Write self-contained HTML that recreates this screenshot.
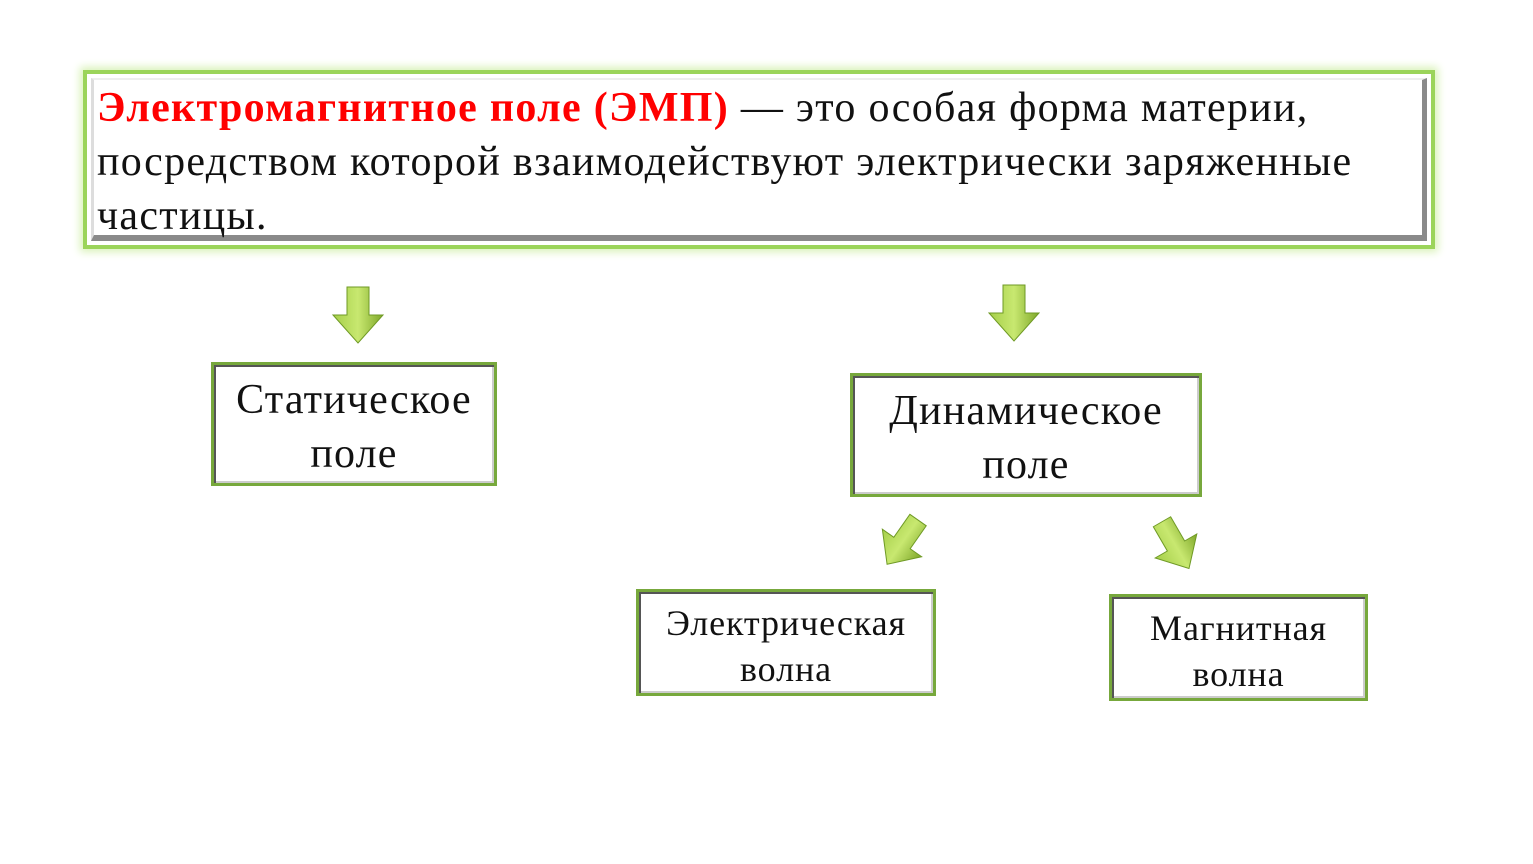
<!DOCTYPE html>
<html><head><meta charset="utf-8"><style>
body{margin:0;width:1533px;height:864px;background:#fff;position:relative;overflow:hidden;font-family:"Liberation Serif",serif;}
.b{position:absolute;box-sizing:border-box;background:#fff;text-align:center;color:#111;}
.main{left:83px;top:70px;width:1352px;height:179px;border:4px solid #9bd45a;box-shadow:0 0 8px 3px #d9f2b8;}
.inner{position:absolute;left:4px;top:4px;right:4px;bottom:4px;border-right:5px solid #8a8a8a;border-bottom:6px solid #8a8a8a;border-left:3px solid #ddd;border-top:2px solid #eee;}
.mt{position:absolute;left:97px;top:81px;font-size:42px;letter-spacing:1.3px;line-height:54px;color:#111;white-space:nowrap;}
.box{border:3px solid #77a83c;box-shadow:2px 2px 0 #555 inset, -2px -2px 0 #ccc inset;}
</style></head><body>
<div class="b main"><div class="inner"></div></div>
<div class="mt"><span style="color:#f00;font-weight:bold">Электромагнитное поле (ЭМП)</span> — это особая форма материи,<br>посредством которой взаимодействуют электрически заряженные<br>частицы.</div>

<svg width="1533" height="864" style="position:absolute;left:0;top:0">
<defs><linearGradient id="g" x1="0" x2="1"><stop offset="0" stop-color="#a6cf4a"/><stop offset=".5" stop-color="#c8e870"/><stop offset="1" stop-color="#7fa82a"/></linearGradient></defs>
<g fill="url(#g)" stroke="#6f9a25" stroke-width="1">
<polygon points="347,287 369,287 369,315 383,315 358,343 333,315 347,315"/>
<polygon points="1003,285 1025,285 1025,313 1039,313 1014,341 989,313 1003,313"/>
<g transform="translate(902,543) rotate(35)"><polygon points="-10,-28 10,-28 10,0 24,0 0,26 -24,0 -10,0"/></g>
<g transform="translate(1176,546) rotate(-30)"><polygon points="-10,-28 10,-28 10,0 24,0 0,26 -24,0 -10,0"/></g>
</g></svg>

<div class="b box" style="left:211px;top:362px;width:286px;height:124px;font-size:42px;letter-spacing:1.2px;line-height:54px;padding-top:8px">Статическое<br>поле</div>
<div class="b box" style="left:850px;top:373px;width:352px;height:124px;font-size:42px;letter-spacing:1.2px;line-height:54px;padding-top:8px">Динамическое<br>поле</div>
<div class="b box" style="left:636px;top:589px;width:300px;height:107px;font-size:36px;letter-spacing:0.9px;line-height:46px;padding-top:8px">Электрическая<br>волна</div>
<div class="b box" style="left:1109px;top:594px;width:259px;height:107px;font-size:36px;letter-spacing:0.9px;line-height:46px;padding-top:8px">Магнитная<br>волна</div>
</body></html>
